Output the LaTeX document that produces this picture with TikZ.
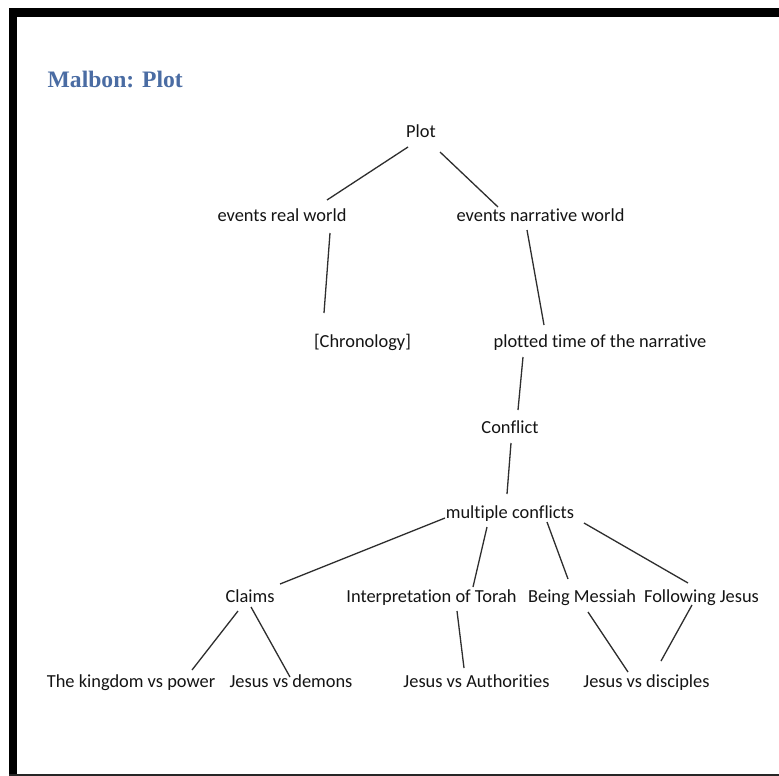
\documentclass[tikz,border=0pt]{standalone}
\usepackage{fontspec}
\setmainfont{Carlito}[Ligatures={NoCommon}]
\newfontfamily\headfont{Liberation Serif}
\usetikzlibrary{calc}
\definecolor{headblue}{HTML}{4A6CA3}
\definecolor{linkgray}{HTML}{2E2E2E}
\begin{document}
\begin{tikzpicture}[x=1pt,y=-1pt,
  term/.style={anchor=base,inner sep=0pt,font=\fontsize{18.4}{21}\selectfont,text=black!92},
  link/.style={draw=linkgray,line width=1.3pt}]
\useasboundingbox (0,0) rectangle (779,776);
\fill[white] (0,0) rectangle (779,776);
% page frame: heavy top and left rules, thin bottom rule
\fill[black] (9,8.3) rectangle (779,16.7);
\fill[black] (9,8.3) rectangle (16.8,776);
\fill[black!85] (9,774.3) rectangle (779,776);

\node[anchor=base west,inner sep=0pt,text=headblue,font=\headfont\bfseries\fontsize{23.6}{27}\selectfont] (title) at (47.5,87.6) {Malbon: Plot};

\node[term] (plot) at (421,137.5) {Plot};
\node[term] (erw) at (282,221.5) {events real world};
\node[term] (enw) at (540.5,221.5) {events narrative world};
\node[term] (chron) at (362.5,347.5) {[Chronology]};
\node[term] (ptime) at (600,347.5) {plotted time of the narrative};
\node[term] (conflict) at (510,433.5) {Conflict};
\node[term] (multi) at (510,518.5) {multiple conflicts};
\node[term] (claims) at (250,602) {Claims};
\node[term] (torah) at (431.5,602) {Interpretation of Torah};
\node[term] (messiah) at (582,602) {Being Messiah};
\node[term] (following) at (701.5,602) {Following Jesus};
\node[term] (kingdom) at (131,687) {The kingdom vs power};
\node[term] (demons) at (291,687) {Jesus vs demons};
\node[term] (auth) at (476.5,687) {Jesus vs Authorities};
\node[term] (disciples) at (646.5,687) {Jesus vs disciples};

\draw[link] ($(plot.base)+(-13,9.5)$) -- ($(erw.base)+(45,-21.5)$);
\draw[link] ($(plot.base)+(19,14.5)$) -- ($(enw.base)+(-42.5,-14.5)$);
\draw[link] ($(erw.base)+(48,11.5)$) -- ($(chron.base)+(-38.5,-34.5)$);
\draw[link] ($(enw.base)+(-13.5,8.5)$) -- ($(ptime.base)+(-56,-22.5)$);
\draw[link] ($(ptime.base)+(-77,9.5)$) -- ($(conflict.base)+(8,-23.5)$);
\draw[link] ($(conflict.base)+(1,9.5)$) -- ($(multi.base)+(-3,-24.5)$);
\draw[link] ($(multi.base)+(-65,-0.5)$) -- ($(claims.base)+(30,-18)$);
\draw[link] ($(multi.base)+(-23,8.5)$) -- ($(torah.base)+(41.5,-15)$);
\draw[link] ($(multi.base)+(37,3.5)$) -- ($(messiah.base)+(-14,-23)$);
\draw[link] ($(multi.base)+(74,4.5)$) -- ($(following.base)+(-13.5,-19)$);
\draw[link] ($(claims.base)+(-12,9)$) -- ($(kingdom.base)+(61,-17)$);
\draw[link] ($(claims.base)+(1,5)$) -- ($(demons.base)+(-1,-10)$);
\draw[link] ($(torah.base)+(25.5,9)$) -- ($(auth.base)+(-12.5,-19)$);
\draw[link] ($(messiah.base)+(6,10)$) -- ($(disciples.base)+(-18.5,-15)$);
\draw[link] ($(following.base)+(-9.5,3)$) -- ($(disciples.base)+(14.5,-26)$);
\end{tikzpicture}
\end{document}
